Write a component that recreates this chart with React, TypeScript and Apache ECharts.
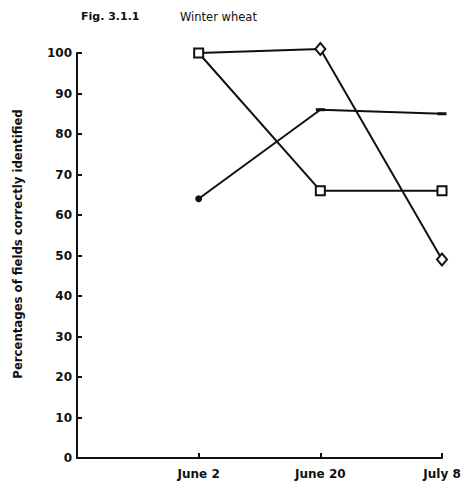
import React, { useEffect, useRef } from "react";
import * as echarts from "echarts";

const categories = ["", "June 2", "June 20", "July 8"];
const squareSeries = [null, 100, 66, 66];
const diamondSeries = [null, 100, 101, 49];
const dotSeries = [null, 64, 86, 85];
const yTicks = [0, 10, 20, 30, 40, 50, 60, 70, 80, 90, 100];

const FONT = "'DejaVu Sans Condensed', 'DejaVu Sans', sans-serif";
const FONT_W = "'DejaVu Sans', sans-serif";

export default function App() {
  const ref = useRef<HTMLDivElement>(null);
  useEffect(() => {
    const chart = echarts.init(ref.current!, null, { renderer: "svg" });
    const dotData = dotSeries.map((v, i) =>
      v === null
        ? null
        : i === 1
        ? { value: v, symbol: "circle", symbolSize: 7 }
        : { value: v, symbol: "rect", symbolSize: [9, 3] }
    );
    const diamondData = diamondSeries.map((v, i) =>
      v === null ? null : i === 1 ? { value: v, symbol: "none" } : { value: v }
    );
    chart.setOption({
      animation: false,
      backgroundColor: "#ffffff",
      title: [
        {
          text: "Fig. 3.1.1",
          left: 76,
          top: 6,
          textStyle: { fontFamily: FONT_W, fontSize: 11, fontWeight: "bold", color: "#111" },
        },
        {
          text: "Winter wheat",
          left: 175,
          top: 6,
          textStyle: { fontFamily: FONT_W, fontSize: 11.5, fontWeight: "normal", color: "#111" },
        },
      ],
      graphic: [
        {
          type: "text",
          x: 17,
          y: 244,
          rotation: Math.PI / 2,
          style: {
            text: "Percentages of fields correctly identified",
            fontFamily: FONT,
            fontSize: 13,
            fontWeight: "bold",
            fill: "#111",
            align: "center",
            verticalAlign: "middle",
          },
        },
      ],
      grid: { left: 77, right: 22, top: 53, bottom: 27, containLabel: false },
      xAxis: {
        type: "category",
        data: categories,
        boundaryGap: false,
        axisLine: { lineStyle: { color: "#111", width: 2 } },
        axisTick: { inside: true, length: 5, lineStyle: { color: "#111", width: 2 }, alignWithLabel: true },
        axisLabel: { fontFamily: FONT_W, fontSize: 12, fontWeight: "bold", color: "#111", margin: 10 },
        splitLine: { show: false },
      },
      yAxis: {
        type: "value",
        min: 0,
        max: 100,
        interval: 10,
        axisLine: { show: true, lineStyle: { color: "#111", width: 2 } },
        axisTick: { show: true, inside: true, length: 5, lineStyle: { color: "#111", width: 2 } },
        axisLabel: {
          fontFamily: FONT_W,
          fontSize: 12,
          fontWeight: "bold",
          color: "#111",
          margin: 5,
          formatter: (v: number) => (yTicks.includes(v) ? String(v) : ""),
        },
        splitLine: { show: false },
      },
      series: [
        {
          type: "line",
          data: squareSeries,
          symbol: "emptyRect",
          symbolSize: 9,
          clip: false,
          lineStyle: { color: "#111", width: 2 },
          itemStyle: { color: "#111", borderColor: "#111", borderWidth: 1.5 },
          z: 4,
        },
        {
          type: "line",
          data: diamondData,
          symbol: "emptyDiamond",
          symbolSize: [10, 12],
          clip: false,
          lineStyle: { color: "#111", width: 2 },
          itemStyle: { color: "#111", borderColor: "#111", borderWidth: 1.5 },
          z: 3,
        },
        {
          type: "line",
          data: dotData,
          symbol: "rect",
          clip: false,
          lineStyle: { color: "#111", width: 2 },
          itemStyle: { color: "#111" },
          z: 3,
        },
      ],
    });
    return () => chart.dispose();
  }, []);
  return <div ref={ref} style={{ width: 464, height: 485, position: "absolute", left: 0, top: 0 }} />;
}
